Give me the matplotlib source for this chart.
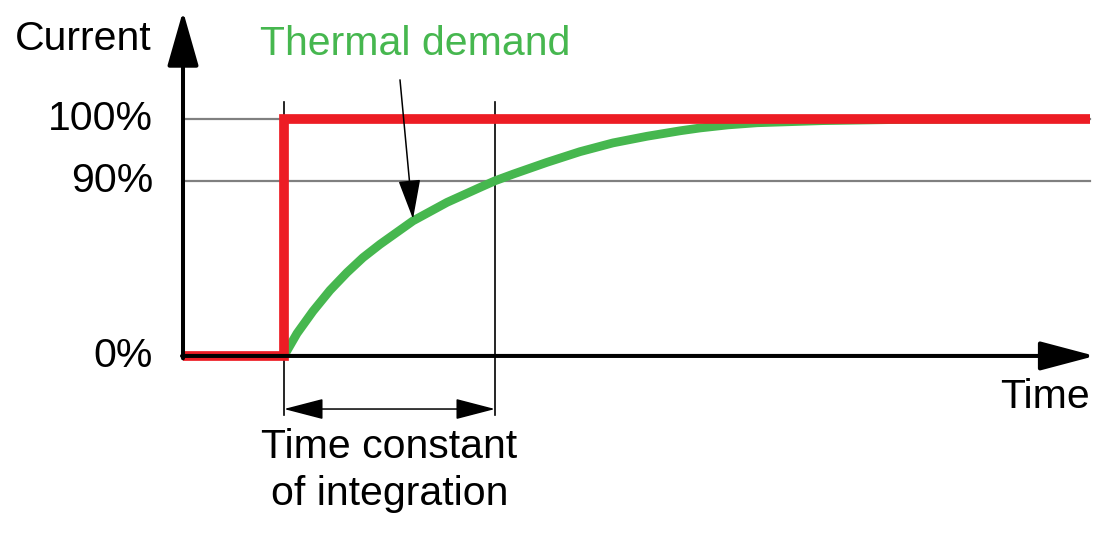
import numpy as np
import matplotlib
matplotlib.use("Agg")
import matplotlib.pyplot as plt
from matplotlib.patches import FancyArrowPatch

plt.rcParams['font.family'] = ['Liberation Sans', 'DejaVu Sans']

# data (time in arbitrary units, level as fraction of the 100% line)
t_step = 1.01
t_tau = 3.12
t_end = 9.07
t_axis_end = 9.12

level_names = ["0%", "90%", "100%"]
level_pos = [0.0, 0.737, 1.0]

red_t = [0.0, t_step, t_step, t_end]
red_y = [0.0, 0.0, 1.0, 1.0]

green_t = [1.01, 1.14, 1.30, 1.47, 1.64, 1.80, 1.97, 2.30, 2.64, 2.97, 3.12,
           3.30, 3.64, 3.97, 4.30, 4.64, 4.97, 5.17, 5.45, 5.74, 6.40, 7.17, 8.17]
green_y = [0.0, 0.095, 0.189, 0.277, 0.352, 0.415, 0.471, 0.570, 0.648, 0.711,
           0.739, 0.767, 0.817, 0.862, 0.899, 0.927, 0.950, 0.962, 0.975, 0.984,
           0.993, 0.998, 1.0]

RED = "#ED1C24"
GREEN = "#46B74F"
GRAY = "#808080"
FS = 29.5

fig = plt.figure(figsize=(11.04, 5.46), dpi=100)
ax = fig.add_axes([0, 0, 1, 1])
ax.set_xlim(-1.83, 9.21)
ax.set_ylim(-0.802, 1.502)
ax.axis("off")

# reference lines
for lev in level_pos[1:]:
    ax.plot([0, t_end], [lev, lev], color=GRAY, lw=1.6, zorder=1)

# markers for the time constant
for t in [t_step, t_tau]:
    ax.plot([t, t], [-0.249, 1.072], color="black", lw=1.2, zorder=2)

# curves
ax.plot(green_t, green_y, color=GREEN, lw=6.3, solid_capstyle="butt",
        solid_joinstyle="round", zorder=3)
ax.plot(red_t, red_y, color=RED, lw=7, solid_joinstyle="miter",
        solid_capstyle="butt", zorder=4)


def arrow(p0, p1, lw, style, z=5):
    a = FancyArrowPatch(p0, p1, arrowstyle=style, mutation_scale=1, lw=lw,
                        color="black", shrinkA=0, shrinkB=0, zorder=z)
    ax.add_patch(a)


# axes
arrow((0, -0.01), (0, 1.455), 2.9, "-|>,head_length=34,head_width=9.7")
arrow((-0.01, 0), (t_axis_end, 0), 2.9, "-|>,head_length=34,head_width=9")
# time constant span
arrow((t_step, -0.224), (t_tau, -0.224), 1.1, "<|-|>,head_length=25,head_width=6.5")
# pointer to thermal demand
arrow((2.17, 1.165), (2.30, 0.578), 1.1, "-|>,head_length=25,head_width=7")

# level labels
for name, lev in zip(level_names, level_pos):
    ax.annotate(name, xy=(0, lev), xytext=(-21.6, -7.9), textcoords="offset points",
                ha="right", va="baseline", fontsize=FS)

ax.text(-0.31, 1.291, "Current", ha="right", va="baseline", fontsize=FS)
ax.text(2.32, 1.270, "Thermal demand", ha="center", va="baseline", fontsize=FS, color=GREEN)
ax.text(t_end, -0.219, "Time", ha="right", va="baseline", fontsize=FS)
mid = (t_step + t_tau) / 2
ax.text(mid, -0.430, "Time constant", ha="center", va="baseline", fontsize=FS)
ax.text(mid, -0.629, "of integration", ha="center", va="baseline", fontsize=FS)

fig.savefig("out.png", dpi=100)
